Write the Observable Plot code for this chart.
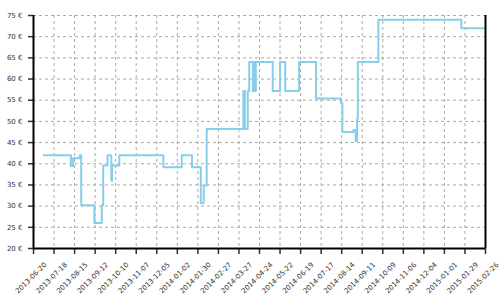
<!DOCTYPE html>
<html><head><meta charset="utf-8">
<script src="https://cdn.jsdelivr.net/npm/d3@7"></script>
<script src="https://cdn.jsdelivr.net/npm/@observablehq/plot@0.6"></script>
<style>body{margin:0;background:#fff} svg{display:block}</style>
</head><body><div id="chart"></div>
<script>
const dates = ["2013-07-04","2013-08-10","2013-08-13","2013-08-22","2013-08-24","2013-09-11","2013-09-21","2013-09-23","2013-09-29","2013-10-04","2013-10-05","2013-10-15","2013-12-14","2014-01-08","2014-01-22","2014-02-03","2014-02-07","2014-02-11","2014-04-02","2014-04-04","2014-04-08","2014-04-10","2014-04-15","2014-04-16","2014-04-18","2014-04-19","2014-05-12","2014-05-22","2014-05-29","2014-06-17","2014-07-10","2014-08-13","2014-08-15","2014-08-30","2014-09-02","2014-09-04","2014-09-05","2014-10-03","2015-01-24","2015-02-26"];
const prices = [42,39.5,41.3,42,30.2,26,30.2,39.6,42,36,39.6,42,39.2,42,39.2,30.7,34.9,48.2,57.2,48.2,57.2,64,57.2,64,57.2,64,57.2,64,57.2,64,55.4,54.3,47.5,48,45.4,50.6,64,74,72,72];
const xTickLabels = ["2013-06-20","2013-07-18","2013-08-15","2013-09-12","2013-10-10","2013-11-07","2013-12-05","2014-01-02","2014-01-30","2014-02-27","2014-03-27","2014-04-24","2014-05-22","2014-06-19","2014-07-17","2014-08-14","2014-09-11","2014-10-09","2014-11-06","2014-12-04","2015-01-01","2015-01-29","2015-02-26"];
const yTicks = [20,25,30,35,40,45,50,55,60,65,70,75];

const parse = d3.utcParse("%Y-%m-%d");
const data = dates.map((d, i) => ({date: parse(d), price: prices[i]}));
const xt = xTickLabels.map(parse);

const chart = Plot.plot({
  width: 500, height: 300,
  marginLeft: 33, marginRight: 15, marginTop: 15, marginBottom: 52,
  style: {fontFamily: "DejaVu Sans", fontSize: "7px", color: "#333", background: "#fff"},
  x: {type: "utc", domain: [xt[0], xt[xt.length - 1]]},
  y: {domain: [20, 75]},
  marks: [
    Plot.gridY(yTicks, {stroke: "#aaa", strokeOpacity: 1, strokeDasharray: "3,3"}),
    Plot.gridX(xt, {stroke: "#aaa", strokeOpacity: 1, strokeDasharray: "3,3"}),
    Plot.line(data, {x: "date", y: "price", curve: "step-after", stroke: "#87CEEB", strokeWidth: 2}),
    Plot.axisY(yTicks, {tickFormat: d => d + " €", tickSize: 5, tickPadding: 6, strokeWidth: 1.5, label: null}),
    Plot.axisX(xt, {tickFormat: () => "", tickSize: 6, strokeWidth: 1.5, label: null}),
    Plot.axisX(xt, {tickFormat: d3.utcFormat("%Y-%m-%d"), tickRotate: -45, tickSize: 0, tickPadding: 3, label: null, dx: 12, dy: 12}),
    Plot.ruleX([xt[0], xt[xt.length - 1]], {stroke: "#000", strokeWidth: 2}),
    Plot.ruleY([20], {stroke: "#000", strokeWidth: 2})
  ]
});
document.getElementById("chart").appendChild(chart);
</script>
</body></html>
